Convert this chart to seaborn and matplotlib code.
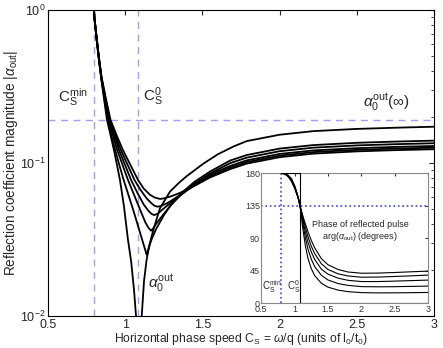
import matplotlib
matplotlib.use('Agg')
import matplotlib.pyplot as plt
import seaborn as sns
from matplotlib.ticker import FormatStrFormatter, NullFormatter

# ---- main panel: |alpha_out| vs C_S ----
a0_x = [0.798, 0.800, 0.815, 0.830, 0.846, 0.864, 0.882, 0.905, 0.927, 0.946, 0.966, 0.992, 1.018, 1.038,
        1.057, 1.070, 1.080, 1.088, 1.100, 1.107, 1.122, 1.139, 1.160, 1.182, 1.225, 1.290, 1.350, 1.398,
        1.506, 1.600, 1.700, 1.787, 2.000, 2.218, 2.500, 2.750, 3.000]
a0_y = [1.0, 0.90, 0.637, 0.470, 0.348, 0.257, 0.191, 0.152, 0.1216, 0.098, 0.0774, 0.052, 0.0314, 0.0229,
        0.0148, 0.0100, 0.0060, 0.0030, 0.0060, 0.0100, 0.0170, 0.0235, 0.0300, 0.0365, 0.0506, 0.0650, 0.0745,
        0.0820, 0.0990, 0.1140, 0.1280, 0.1390, 0.1530, 0.1615, 0.1670, 0.1700, 0.1726]

c1_x = [0.798, 0.800, 0.815, 0.830, 0.846, 0.866, 0.888, 0.910, 0.935, 0.962, 0.990, 1.050, 1.100, 1.125,
        1.139, 1.150, 1.170, 1.200, 1.250, 1.300, 1.355, 1.450, 1.550, 1.680, 1.787, 2.000, 2.218, 2.500,
        2.750, 3.000]
c1_y = [1.0, 0.90, 0.640, 0.472, 0.352, 0.262, 0.191, 0.152, 0.1216, 0.097, 0.0774, 0.0500, 0.0340, 0.0280,
        0.0251, 0.0275, 0.0315, 0.0370, 0.0455, 0.0540, 0.0625, 0.0755, 0.0880, 0.1038, 0.1127, 0.1242, 0.1309,
        0.1355, 0.1380, 0.1400]

c2_x = [0.798, 0.800, 0.815, 0.830, 0.846, 0.868, 0.892, 0.920, 0.948, 0.983, 1.018, 1.060, 1.100, 1.130,
        1.150, 1.167, 1.180, 1.200, 1.250, 1.300, 1.355, 1.450, 1.550, 1.680, 1.787, 2.000, 2.218, 2.500,
        2.750, 3.000]
c2_y = [1.0, 0.90, 0.645, 0.476, 0.356, 0.262, 0.191, 0.152, 0.1216, 0.097, 0.0774, 0.0610, 0.0485, 0.0410,
        0.0378, 0.0361, 0.0372, 0.0400, 0.0465, 0.0535, 0.0610, 0.0735, 0.0855, 0.0998, 0.1084, 0.1194, 0.1259,
        0.1303, 0.1327, 0.1346]

c3_x = [0.798, 0.800, 0.815, 0.830, 0.846, 0.870, 0.896, 0.928, 0.960, 0.999, 1.038, 1.080, 1.120, 1.150,
        1.170, 1.187, 1.210, 1.250, 1.300, 1.355, 1.450, 1.550, 1.680, 1.787, 2.000, 2.218, 2.500, 2.750, 3.000]
c3_y = [1.0, 0.90, 0.650, 0.480, 0.360, 0.264, 0.191, 0.152, 0.1216, 0.097, 0.0774, 0.0635, 0.0535, 0.0487,
        0.0465, 0.0457, 0.0465, 0.0505, 0.0555, 0.0615, 0.0725, 0.0840, 0.0957, 0.1040, 0.1146, 0.1208, 0.1250,
        0.1274, 0.1291]

c4_x = [0.798, 0.800, 0.815, 0.830, 0.846, 0.872, 0.900, 0.936, 0.972, 1.016, 1.060, 1.100, 1.140, 1.170,
        1.190, 1.208, 1.230, 1.270, 1.300, 1.355, 1.450, 1.550, 1.680, 1.787, 2.000, 2.218, 2.500, 2.750, 3.000]
c4_y = [1.0, 0.90, 0.655, 0.484, 0.364, 0.265, 0.191, 0.152, 0.1216, 0.097, 0.0774, 0.0665, 0.0585, 0.0545,
        0.0525, 0.0518, 0.0523, 0.0545, 0.0568, 0.0618, 0.0715, 0.0820, 0.0933, 0.1014, 0.1117, 0.1178, 0.1219,
        0.1242, 0.1259]

c5_x = [0.798, 0.800, 0.815, 0.830, 0.846, 0.874, 0.905, 0.944, 0.985, 1.034, 1.083, 1.120, 1.160, 1.190,
        1.225, 1.250, 1.300, 1.355, 1.450, 1.550, 1.680, 1.787, 2.000, 2.218, 2.500, 2.750, 3.000]
c5_y = [1.0, 0.90, 0.660, 0.488, 0.368, 0.266, 0.191, 0.152, 0.1216, 0.097, 0.0774, 0.0680, 0.0620, 0.0595,
        0.0582, 0.0587, 0.0607, 0.0638, 0.0710, 0.0805, 0.0912, 0.0991, 0.1091, 0.1151, 0.1191, 0.1213, 0.1230]

cs_min = 0.80
cs_zero = 1.083
alpha_inf = 0.191

# ---- inset: phase of reflected pulse (degrees) ----
ph_x = [0.80, 0.85, 0.90, 0.95, 1.00, 1.04, 1.06, 1.08, 1.10, 1.12, 1.16, 1.20, 1.25, 1.30, 1.40, 1.50,
        1.65, 1.80, 2.00, 2.25, 2.50, 2.75, 3.00]
ph1 = [180, 179, 175.5, 169, 159, 149, 143, 135, 121, 105, 80, 62, 48, 38.5, 28, 22.5, 18.5, 16.3, 15.0,
       14.6, 14.7, 14.9, 15.2]
ph2 = [180, 179.2, 176, 170, 160, 149.5, 143, 135, 124, 112, 91, 75, 61, 51, 39, 32.5, 27.5, 25, 23.3,
       23.0, 23.2, 23.6, 24.0]
ph3 = [180, 179.4, 176.5, 171, 161, 150, 143.5, 135, 126, 116.5, 99, 84.5, 71, 61, 47.5, 40.5, 35, 32,
       30.3, 30.3, 30.9, 31.6, 32.3]
ph4 = [180, 179.6, 177, 172, 162, 150.5, 143.5, 135, 127.5, 120, 105.5, 92, 79, 69, 55, 47, 41, 38, 36.3,
       36.5, 37.3, 38.2, 39.2]
ph5 = [180, 179.8, 177.5, 173, 163, 151, 144, 135, 128.5, 122, 110, 99, 87, 77, 62, 53.5, 47, 43.5, 41.8,
       42.0, 42.8, 43.8, 44.7]
ph0_x = [0.80, 1.08, 1.08, 3.00]
ph0_y = [180, 180, 0, 0]
ph_ref = 135

sns.set_style('white')
plt.rcParams['font.family'] = ['Liberation Sans', 'DejaVu Sans']
plt.rcParams['mathtext.fontset'] = 'custom'
plt.rcParams['mathtext.rm'] = 'Liberation Sans'
plt.rcParams['mathtext.it'] = 'Liberation Sans:italic'
plt.rcParams['mathtext.cal'] = 'Liberation Sans'

fig = plt.figure(figsize=(4.43, 3.48), dpi=100)
ax = fig.add_axes([0.1084, 0.092, 0.8713, 0.8793])

lav = (0.62, 0.62, 1.0)
ax.axvline(cs_min, color=lav, ls=(0, (5, 4)), lw=1.0, zorder=1)
ax.axvline(cs_zero, color=lav, ls=(0, (5, 4)), lw=1.0, zorder=1)
ax.axhline(alpha_inf, color=lav, ls=(0, (5, 4)), lw=1.0, zorder=1)

for xs, ys in [(a0_x, a0_y), (c1_x, c1_y), (c2_x, c2_y), (c3_x, c3_y), (c4_x, c4_y), (c5_x, c5_y)]:
    sns.lineplot(x=xs, y=ys, ax=ax, color='k', lw=1.3, sort=False, estimator=None, zorder=3)

ax.set_yscale('log')
ax.set_xlim(0.5, 3)
ax.set_ylim(0.01, 1)
ax.set_xticks([0.5, 1, 1.5, 2, 2.5, 3])
ax.xaxis.set_major_formatter(FormatStrFormatter('%g'))
ax.yaxis.set_minor_formatter(NullFormatter())
ax.tick_params(which='both', direction='in', top=True, right=True, labelsize=9, pad=2)
ax.tick_params(which='major', length=3.5)
ax.tick_params(which='minor', length=2)
for s in ax.spines.values():
    s.set_color('k')
    s.set_linewidth(0.8)
ax.set_xlabel(r'Horizontal phase speed C$_\mathrm{S}$ = $\omega$/q (units of l$_0$/t$_0$)', fontsize=8.7, labelpad=0)
ax.set_ylabel(r'Reflection coefficient magnitude |$\alpha_\mathrm{out}$|', fontsize=9.8, labelpad=0)

ax.text(0.662, 0.27, r'C$_\mathrm{S}^\mathrm{min}$', fontsize=11, ha='center', va='center')
ax.text(1.18, 0.27, r'C$_\mathrm{S}^\mathrm{0}$', fontsize=11, ha='center', va='center')
ax.text(2.69, 0.25, r'$\alpha_0^\mathrm{out}$($\infty$)', fontsize=11, ha='center', va='center')
ax.text(1.145, 0.0165, r'$\alpha_0^\mathrm{out}$', fontsize=11, ha='left', va='center')

# ---- inset ----
ins = fig.add_axes([0.590, 0.128, 0.376, 0.374])
ins.set_facecolor('white')
blue = (0.25, 0.25, 1.0)
ins.axvline(cs_min, color=blue, ls=':', lw=1.2, zorder=1)
ins.axhline(ph_ref, color=blue, ls=':', lw=1.2, zorder=1)
for ys in [ph1, ph2, ph3, ph4, ph5]:
    sns.lineplot(x=ph_x, y=ys, ax=ins, color='k', lw=0.8, sort=False, estimator=None, zorder=3)
sns.lineplot(x=ph0_x, y=ph0_y, ax=ins, color='k', lw=0.8, sort=False, estimator=None, zorder=3)
ins.set_xlim(0.5, 3)
ins.set_ylim(0, 180)
ins.set_xticks([0.5, 1, 1.5, 2, 2.5, 3])
ins.set_yticks([0, 45, 90, 135, 180])
ins.xaxis.set_major_formatter(FormatStrFormatter('%g'))
ins.tick_params(direction='in', top=True, right=True, labelsize=6.5, length=2.5, pad=1, colors='#333333')
for s in ins.spines.values():
    s.set_color('#888888')
    s.set_linewidth(0.8)
ins.text(1.98, 100, 'Phase of reflected pulse\n' + r'arg($\alpha_\mathrm{out}$) (degrees)',
         fontsize=6.5, ha='center', va='center', linespacing=1.1)
ins.text(0.66, 23, r'C$_\mathrm{S}^\mathrm{min}$', fontsize=7, ha='center', va='center')
ins.text(0.985, 23, r'C$_\mathrm{S}^\mathrm{0}$', fontsize=7, ha='center', va='center')

fig.savefig('out.png', dpi=100)
